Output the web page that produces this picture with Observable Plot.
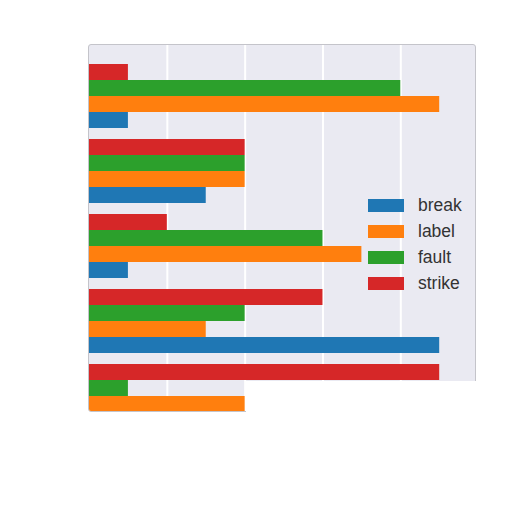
<!DOCTYPE html>
<html><head><meta charset="utf-8">
<script src="https://cdn.jsdelivr.net/npm/d3@7"></script>
<script src="https://cdn.jsdelivr.net/npm/@observablehq/plot@0.6"></script>
<style>
body{margin:0;background:#fff;font-family:"Liberation Sans",Arial,sans-serif;}
#wrap{position:absolute;left:88px;top:44px;width:386px;height:366px;overflow:hidden;background:#eaeaf2;border:1px solid #c4c4ca;border-radius:3px;}
#wrap svg{display:block;background:transparent;position:absolute;left:0;top:0;}
#legend{position:absolute;left:368px;top:192px;}
.row{display:flex;align-items:center;height:26px;}
.sw{width:36px;height:13px;margin-right:14px;}
.lb{font-size:17.5px;color:#333;}
#cut{position:absolute;left:246px;top:381px;width:240px;height:40px;background:#fff;}
</style></head>
<body>
<div id="wrap"></div>
<div id="cut"></div>
<div id="legend"></div>
<script>
const groups = ["1", "2", "3", "4", "5"];
const seriesNames = ["break", "label", "fault", "strike"];
const seriesColors = ["#1f77b4", "#ff7f0e", "#2ca02c", "#d62728"];
const breakVals  = [0.5, 1.5, 0.5, 4.5, null];
const labelVals  = [4.5, 2.0, 3.5, 1.5, 2.0];
const faultVals  = [4.0, 2.0, 3.0, 2.0, 0.5];
const strikeVals = [0.5, 2.0, 1.0, 3.0, 4.5];
const xTicks = [1, 2, 3, 4];

const valuesBySeries = {break: breakVals, label: labelVals, fault: faultVals, strike: strikeVals};
const rows = [];
groups.forEach((g, i) => {
  seriesNames.forEach(s => {
    const v = valuesBySeries[s][i];
    if (v != null) rows.push({group: g, series: s, value: v});
  });
});

const xDomain = [0, 4.96];
const common = {width: 386, height: 386, marginLeft: 0, marginRight: 0, marginTop: 17, marginBottom: 2};

const grid = Plot.plot({
  ...common,
  marginTop: 0, marginBottom: 0,
  x: {domain: xDomain, axis: null},
  marks: [
    Plot.gridX(xTicks, {stroke: "#fff", strokeOpacity: 1, strokeWidth: 2})
  ]
});

const chart = Plot.plot({
  ...common,
  x: {domain: xDomain, axis: null},
  y: {domain: ["strike", "fault", "label", "break"], axis: null, padding: 0},
  fy: {domain: groups, axis: null, paddingInner: 0.107, paddingOuter: 0, label: null},
  color: {domain: seriesNames, range: seriesColors},
  marks: [
    Plot.barX(rows, {x: "value", y: "series", fy: "group", fill: "series", inset: 0})
  ]
});
const wrap = document.getElementById("wrap");
wrap.appendChild(grid);
wrap.appendChild(chart);

const leg = document.getElementById("legend");
seriesNames.forEach((s, i) => {
  const r = document.createElement("div");
  r.className = "row";
  r.innerHTML = `<div class="sw" style="background:${seriesColors[i]}"></div><span class="lb">${s}</span>`;
  leg.appendChild(r);
});
</script>
</body></html>
